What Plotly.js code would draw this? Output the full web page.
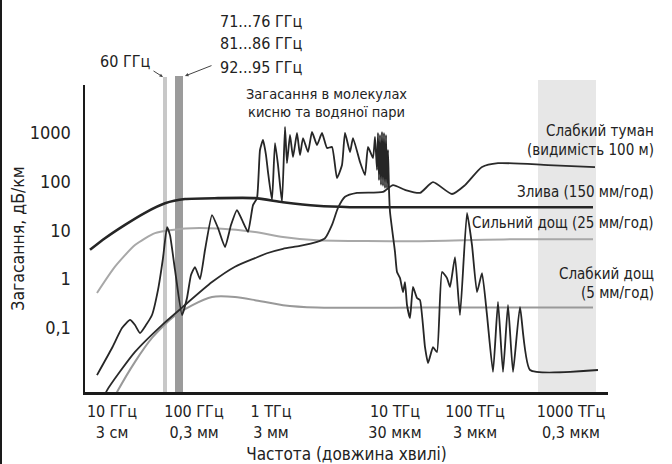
<!DOCTYPE html>
<html>
<head>
<meta charset="utf-8">
<script src="https://cdn.plot.ly/plotly-3.0.1.min.js"></script>
<style>html,body{margin:0;padding:0;background:#fff;}#chart{width:672px;height:464px;}</style>
</head>
<body>
<div id="chart"></div>
<script>
// Horizontal position along the (non-uniform) frequency axis
var xTickPos = [112, 194, 271, 395, 475, 571];
var xTickLabels = ['10 ГГц<br>3 см', '100 ГГц<br>0,3 мм', '1 ТГц<br>3 мм', '10 ТГц<br>30 мкм', '100 ТГц<br>3 мкм', '1000 ТГц<br>0,3 мкм'];
var yTickVals = [0.1, 1, 10, 100, 1000];
var yTickLabels = ['0,1', '1', '10', '100', '1000'];

// Heavy rain (150 mm/h)
var xHeavy = [90, 105, 125, 145, 165, 185, 218, 255, 283, 317, 350, 420, 500, 593];
var vHeavy = [4.0, 6.9, 13, 23, 36, 44, 46, 46, 38, 32, 30, 30, 30, 30];

// Strong rain (25 mm/h)
var xStrong = [97, 115, 135, 155, 185, 218, 255, 283, 317, 420, 515, 593];
var vStrong = [0.52, 1.8, 5.0, 8.8, 11, 11, 9.3, 7.3, 6.3, 6.0, 6.6, 6.6];

// Light rain (5 mm/h)
var xLight = [112, 118, 135, 152, 172, 192, 212, 235, 255, 283, 317, 420, 593];
var vLight = [0.003, 0.0052, 0.020, 0.062, 0.16, 0.29, 0.43, 0.43, 0.37, 0.29, 0.26, 0.26, 0.26];

// Light fog (visibility 100 m)
var xFog = [102, 107, 135, 162, 182, 212, 235, 255, 267, 283, 300, 317, 325, 332, 338, 345, 357, 383, 393, 405, 420, 433, 452, 465, 482, 498, 548, 595];
var vFog = [0.003, 0.0052, 0.032, 0.114, 0.26, 0.87, 1.8, 2.7, 3.4, 4.2, 4.8, 5.8, 6.9, 13, 29, 49, 59, 62, 85, 68, 59, 98, 56, 85, 200, 240, 220, 200];

// Molecular absorption (oxygen and water vapour)
var xMol = [97, 112, 122, 130, 135, 140, 146, 152, 158, 163, 167, 170, 175, 182, 187, 191, 195, 200, 205, 212, 218, 225, 231, 237, 242, 248, 253, 257,
  260, 263, 266, 268, 272, 275, 278, 282, 285, 287, 290, 293, 297, 300, 303, 308, 312, 317, 322, 327, 332, 337, 342, 345, 350, 353, 360, 365, 368,
  373, 375, 377, 378, 379, 380, 381, 382, 383, 384, 385, 386, 387, 388, 389, 390, 395, 397, 400, 403, 405, 407, 410, 413, 417, 420,
  425, 428, 433, 437, 442, 447, 450, 455, 460, 467, 472, 477, 482, 487, 493, 498, 503, 508, 513, 520, 530, 598];
var vMol = [0.0107, 0.0385, 0.099, 0.145, 0.114, 0.078, 0.114, 0.183, 0.60, 2.7, 11.7, 8.0, 1.54, 0.183, 0.41, 1.21, 1.77, 1.0, 3.96, 20.7, 11.2, 4.56, 12.9, 26.2, 16.4, 9.3, 33, 46,
  448, 718, 353, 158, 42, 623, 220, 38, 1330, 242, 910, 321, 1000, 353, 789, 407, 1050, 567, 1000, 492, 516, 119, 220, 1000, 407, 789, 254, 137, 516,
  307, 828, 174, 1000, 108, 910, 86, 1050, 82, 1000, 74, 910, 74, 448, 68, 23.9, 3.6, 1.40, 1.05, 0.54, 0.87, 0.294, 0.159, 0.69, 0.41, 0.37,
  0.040, 0.0189, 0.040, 0.0318, 1.40, 1.05, 0.69, 2.84, 0.183, 22.8, 5.0, 0.54, 1.33, 0.183, 0.0124, 0.339, 0.0124, 0.294, 0.0124, 0.267, 0.0136, 0.0136];

// Frequency bands
var band60 = [163, 167];
var band7095 = [175, 183];
var bandOptical = [538, 596];

var FONT = '"DejaVu Sans Condensed", "Liberation Sans Narrow", sans-serif';
var TXT = '#222';

function line(x, y, color, width, sm) {
  return {x: x, y: y, type: 'scatter', mode: 'lines', line: {color: color, width: width, shape: 'spline', smoothing: sm}, hoverinfo: 'skip'};
}

var traces = [
  line(xLight, vLight, '#999999', 2, 0.6),
  line(xStrong, vStrong, '#a8a8a8', 2, 0.6),
  line(xHeavy, vHeavy, '#252525', 2.6, 0.6),
  line(xFog, vFog, '#2a2a2a', 1.8, 0.6),
  line(xMol, vMol, '#262626', 1.8, 0.45)
];

function py(Y) { return (392 - Y) / 307; }
function px(X) { return (X - 85) / 523; }

function txt(text, x, y, xanchor, size, xref) {
  return {text: text, x: x, y: y, xref: xref || 'x', yref: 'paper', xanchor: xanchor, yanchor: 'middle', showarrow: false,
    font: {family: FONT, size: size || 16, color: TXT}};
}

var annotations = [
  txt('71...76 ГГц', 218, py(22), 'left', 16),
  txt('81...86 ГГц', 218, py(44), 'left', 16),
  txt('92...95 ГГц', 218, py(67), 'left', 16),
  txt('60 ГГц', 152, py(62), 'right', 16),
  txt('Загасання в молекулах', 326, py(94), 'center', 14.5),
  txt('кисню та водяної пари', 326, py(112), 'center', 14.5),
  txt('Слабкий туман', px(656), py(131), 'right', 15, 'paper'),
  txt('(видимість 100 м)', px(656), py(150), 'right', 15, 'paper'),
  txt('Злива (150 мм/год)', px(656), py(192), 'right', 15, 'paper'),
  txt('Сильний дощ (25 мм/год)', px(656), py(223), 'right', 15, 'paper'),
  txt('Слабкий дощ', px(656), py(274), 'right', 15, 'paper'),
  txt('(5 мм/год)', px(656), py(293), 'right', 15, 'paper'),
  {text: '', x: band60[0], y: py(77), xref: 'x', yref: 'paper', showarrow: true, ax: -11, ay: -7,
    arrowhead: 2, arrowsize: 0.7, arrowwidth: 1, arrowcolor: '#444'},
  {text: '', x: band7095[1] + 2, y: py(76), xref: 'x', yref: 'paper', showarrow: true, ax: 28, ay: -11,
    arrowhead: 2, arrowsize: 0.7, arrowwidth: 1, arrowcolor: '#444'}
];

var shapes = [
  {type: 'rect', xref: 'x', yref: 'paper', x0: bandOptical[0], x1: bandOptical[1], y0: 0, y1: py(80), fillcolor: '#e7e7e7', line: {width: 0}, layer: 'below'},
  {type: 'rect', xref: 'x', yref: 'paper', x0: band60[0], x1: band60[1], y0: 0, y1: py(77), fillcolor: '#c8c8c8', line: {width: 0}, layer: 'below'},
  {type: 'rect', xref: 'x', yref: 'paper', x0: band7095[0], x1: band7095[1], y0: 0, y1: py(76), fillcolor: '#9b9b9b', line: {width: 0}, layer: 'below'},
  {type: 'line', xref: 'paper', yref: 'paper', x0: px(1), x1: px(1), y0: -0.3, y1: 1.4, line: {color: '#1a1a1a', width: 2}}
];

var layout = {
  width: 672, height: 464,
  margin: {l: 85, r: 64, t: 85, b: 72},
  paper_bgcolor: '#ffffff', plot_bgcolor: '#ffffff',
  showlegend: false,
  font: {family: FONT, size: 16, color: TXT},
  xaxis: {
    type: 'linear', range: [85, 608], showgrid: false, zeroline: false,
    showline: true, linecolor: '#1a1a1a', linewidth: 2.5, mirror: false,
    tickmode: 'array', tickvals: xTickPos, ticktext: xTickLabels, ticks: '',
    tickfont: {family: FONT, size: 16, color: TXT}, ticklabelstandoff: 3,
    title: {text: 'Частота (довжина хвилі)', font: {family: FONT, size: 17, color: TXT}, standoff: 13}
  },
  yaxis: {
    type: 'log', range: [-2.318, 3.986], showgrid: false, zeroline: false,
    showline: true, linecolor: '#1a1a1a', linewidth: 2.5,
    tickmode: 'array', tickvals: yTickVals, ticktext: yTickLabels, ticks: '',
    tickfont: {family: FONT, size: 18, color: TXT}, ticklabelstandoff: 8,
    title: {text: 'Загасання, дБ/км', font: {family: FONT, size: 17.5, color: TXT}, standoff: 1}
  },
  annotations: annotations,
  shapes: shapes
};

Plotly.newPlot('chart', traces, layout, {staticPlot: true, displayModeBar: false});
</script>
</body>
</html>
